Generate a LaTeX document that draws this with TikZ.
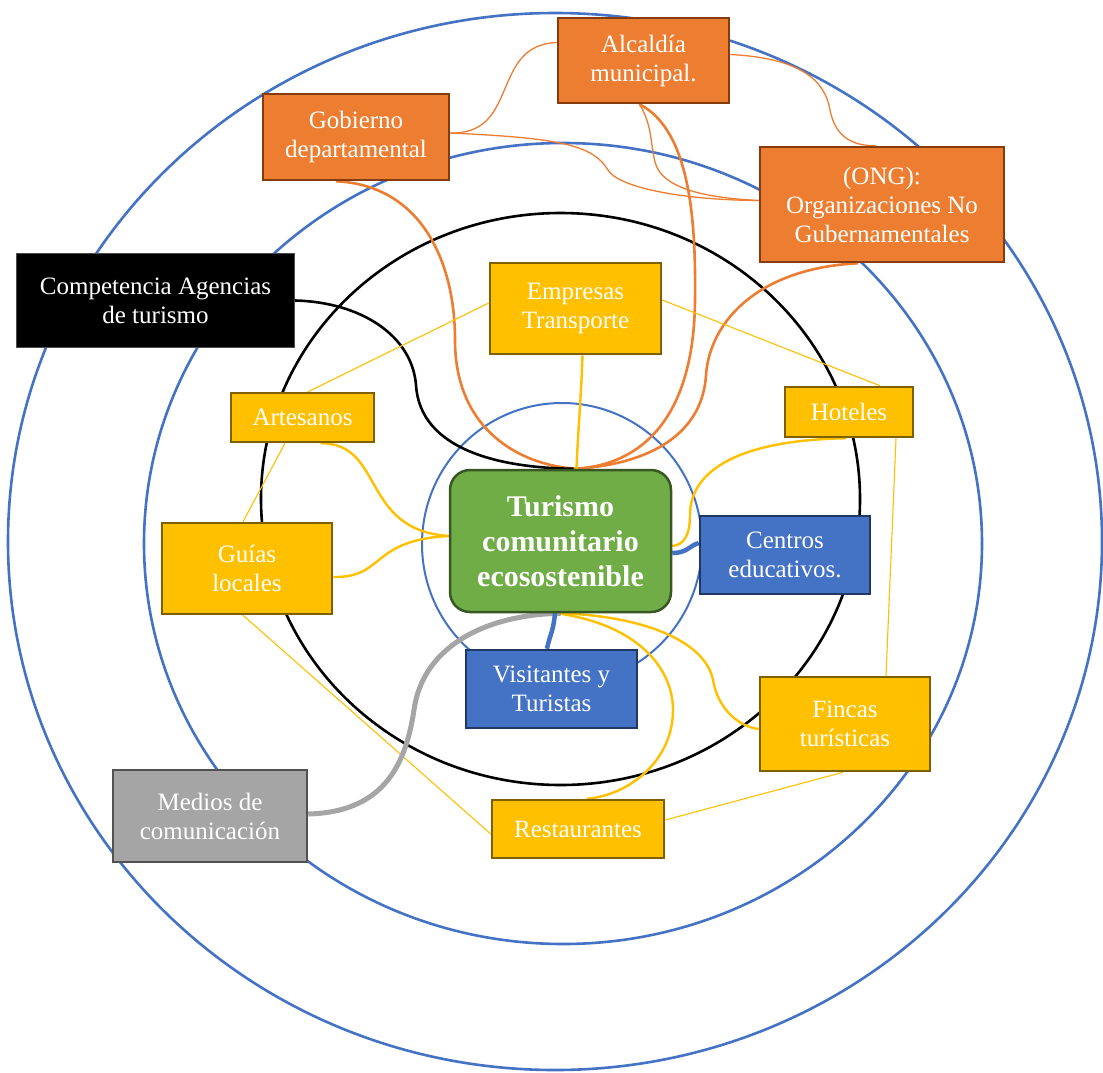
\documentclass[tikz,border=0pt]{standalone}
\usepackage{fontspec}
\setmainfont{Liberation Serif}
\pgfdeclarelayer{bg}
\pgfsetlayers{bg,main}
\definecolor{cblue}{HTML}{4472C4}
\definecolor{corange}{HTML}{ED7D31}
\definecolor{corangeb}{HTML}{843C0C}
\definecolor{cyellow}{HTML}{FFC000}
\definecolor{cyellowb}{HTML}{7F6000}
\definecolor{cblueb}{HTML}{203864}
\definecolor{cgray}{HTML}{A5A5A5}
\definecolor{cgrayb}{HTML}{525252}
\definecolor{cgreen}{HTML}{70AD47}
\definecolor{cgreenb}{HTML}{385723}
\tikzset{
  box/.style={draw, line width=2.5pt, text=white, align=center, inner sep=0pt,
    font=\fontsize{25pt}{29pt}\selectfont},
  obox/.style={box, fill=corange, draw=corangeb},
  ybox/.style={box, fill=cyellow, draw=cyellowb},
  bbox/.style={box, fill=cblue, draw=cblueb},
  mbox/.style={box, fill=cgray, draw=cgrayb},
  kbox/.style={box, fill=black, draw=black!70, line width=1pt},
  gbox/.style={box, fill=cgreen, draw=cgreenb, rounded corners=20pt,
    font=\fontsize{30pt}{35pt}\selectfont\bfseries},
  ring/.style={draw=cblue, line width=2.6pt},
  bring/.style={draw=black, line width=2.6pt},
  othin/.style={draw=corange, line width=1.3pt},
  othick/.style={draw=corange, line width=2.6pt},
  ythin/.style={draw=cyellow, line width=1.1pt},
  ythick/.style={draw=cyellow, line width=2.4pt},
  bthick/.style={draw=cblue, line width=4.5pt},
  gthick/.style={draw=cgray, line width=5pt},
  kthick/.style={draw=black, line width=2.6pt}
}
\begin{document}
\begin{tikzpicture}[x=1pt,y=-1pt]
\useasboundingbox (0,0) rectangle (1103,1072);
\clip (0,0) rectangle (1103,1072);

% nodes
\node[obox, minimum width=186pt, minimum height=86pt] (gob) at (356,137) {Gobierno\\departamental};
\node[obox, minimum width=171pt, minimum height=85pt] (alc) at (643.5,60.5) {Alcaldía\\municipal.};
\node[obox, minimum width=244pt, minimum height=115pt] (ong) at (882,204.5) {(ONG):\\Organizaciones No\\Gubernamentales};
\node[kbox, minimum width=278pt, minimum height=94pt] (comp) at (155.5,300.5) {Competencia Agencias\\de turismo};
\node[ybox, minimum width=171pt, minimum height=91pt] (emp) at (575.5,308.5) {Empresas\\Transporte};
\node[ybox, minimum width=143pt, minimum height=49pt] (art) at (302.5,417.5) {Artesanos};
\node[ybox, minimum width=128pt, minimum height=50pt] (hot) at (849,412) {Hoteles};
\node[ybox, minimum width=170pt, minimum height=91pt] (gui) at (247,568.5) {Guías\\locales};
\node[gbox, minimum width=221pt, minimum height=142pt] (tc) at (560.5,541) {Turismo\\comunitario\\ecosostenible};
\node[bbox, minimum width=170pt, minimum height=78pt] (cen) at (785,555) {Centros\\educativos.};
\node[bbox, minimum width=171pt, minimum height=78pt] (vis) at (551.5,689) {Visitantes y\\Turistas};
\node[ybox, minimum width=170pt, minimum height=94pt] (fin) at (845,724) {Fincas\\turísticas};
\node[mbox, minimum width=194pt, minimum height=92pt] (med) at (210,816) {Medios de\\comunicación};
\node[ybox, minimum width=172pt, minimum height=58pt] (res) at (578,829) {Restaurantes};

\begin{pgfonlayer}{bg}
\fill[white] (0,0) rectangle (1103,1072);
% rings
\draw[ring] (555,541.5) ellipse [x radius=547, y radius=528.5];
\draw[ring] (563,543.5) ellipse [x radius=419, y radius=400.5];
\draw[bring] (560.5,499) ellipse [x radius=299.5, y radius=286];
\draw[ring, line width=2pt] (562,544) ellipse [x radius=140, y radius=141];

% orange thin connectors
\draw[othin] ([yshift=4pt]gob.east) .. controls (520,135) and (490,45) .. ([yshift=18pt]alc.west);
\draw[othin] ([yshift=4pt]gob.east) .. controls (560,138) and (593,145) .. (608,170)
  .. controls (618,187) and (680,200) .. ([yshift=4pt]ong.west);
\draw[othin] ([xshift=-4pt]alc.south) .. controls (652,125) and (650,140) .. (655,162)
  .. controls (662,190) and (710,198) .. ([yshift=4pt]ong.west);
\draw[othin] ([yshift=6pt]alc.east) .. controls (800,58) and (825,80) .. (830,110)
  .. controls (835,135) and (850,146) .. ([xshift=-6pt]ong.north);

% orange thick connectors
\draw[othick] ([xshift=-20pt]gob.south) .. controls (420,185) and (455,260) .. (455,340)
  .. controls (455,430) and (520,465) .. ([xshift=15pt]tc.north);
\draw[othick] ([xshift=-4pt]alc.south) .. controls (690,130) and (696,220) .. (695,300)
  .. controls (694,420) and (640,465) .. ([xshift=15pt]tc.north);
\draw[othick] ([xshift=-24pt]ong.south) .. controls (760,268) and (710,320) .. (706,375)
  .. controls (702,440) and (640,465) .. ([xshift=15pt]tc.north);

% black connector
\draw[kthick] ([yshift=0pt]comp.east) .. controls (360,302) and (412,335) .. (416,385)
  .. controls (420,450) and (500,468) .. ([xshift=13pt]tc.north);

% yellow thick connectors
\draw[ythick] ([xshift=7pt]emp.south) .. controls (581,400) and (578,430) .. ([xshift=16pt]tc.north);
\draw[ythick] ([xshift=18pt]art.south) .. controls (385,443) and (360,530) .. ([yshift=5pt]tc.west);
\draw[ythick] ([yshift=-8.5pt]gui.east) .. controls (385,578) and (370,540) .. ([yshift=5pt]tc.west);
\draw[ythick] ([xshift=-3pt]hot.south) .. controls (740,440) and (690,470) .. (690,515)
  .. controls (690,535) and (684,545) .. ([yshift=-5pt]tc.east);
\draw[ythick] ([xshift=-3.5pt]tc.south) .. controls (640,615) and (705,640) .. (713,680)
  .. controls (718,710) and (740,727) .. ([yshift=-5pt]fin.west);
\draw[ythick] ([xshift=-3.5pt]tc.south) .. controls (640,625) and (673,670) .. (673,710)
  .. controls (673,760) and (630,795) .. ([xshift=9pt]res.north);

% yellow thin connectors
\draw[ythin] ([yshift=5.5pt]emp.west) -- ([xshift=5.5pt]art.north);
\draw[ythin] ([yshift=8.5pt]emp.east) -- ([xshift=31pt]hot.north);
\draw[ythin] ([xshift=-17.5pt]art.south) -- ([xshift=-4pt]gui.north);
\draw[ythin] ([xshift=-4pt]gui.south) -- ([yshift=-5pt]res.west);
\draw[ythin] ([yshift=9pt]res.east) -- ([xshift=-2pt]fin.south);
\draw[ythin] ([xshift=47pt]hot.south) -- ([xshift=41pt]fin.north);

% gray connector
\draw[gthick] ([yshift=2pt]med.east) .. controls (380,812) and (405,770) .. (414,710)
  .. controls (422,650) and (480,615) .. (tc.south);

% blue connectors
\draw[bthick] ([yshift=-12pt]tc.east) .. controls +(15,0) and +(-10,3) .. ([yshift=12pt]cen.west);
\draw[bthick] ([xshift=-5.5pt]tc.south) .. controls +(-2,20) and +(3,-15) .. ([xshift=-4.5pt]vis.north);
\end{pgfonlayer}
\end{tikzpicture}
\end{document}
